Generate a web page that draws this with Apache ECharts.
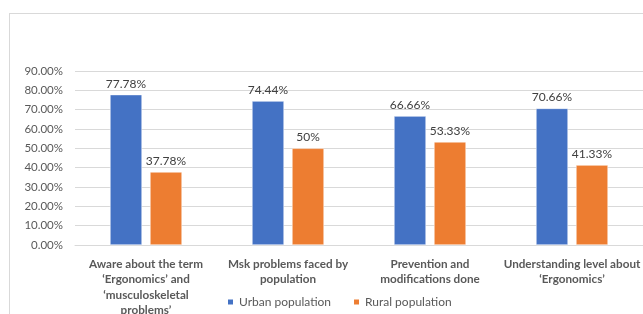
<!DOCTYPE html>
<html>
<head>
<meta charset="utf-8">
<script src="https://cdn.jsdelivr.net/npm/echarts@6/dist/echarts.min.js"></script>
<style>
  html, body { margin: 0; padding: 0; background: #fff; }
  #frame { position: absolute; left: 9px; top: 13px; width: 640px; height: 310px;
           border-left: 1px solid #d9d9d9; border-top: 1px solid #d9d9d9; }
  #chart { position: absolute; left: 0; top: 0; width: 643px; height: 314px; }
</style>
</head>
<body>
<div id="frame"></div>
<div id="chart"></div>
<script>
// categories + values
const categories = [
  "Aware about the term\n\u2018Ergonomics\u2019 and\n\u2018musculoskeletal\nproblems\u2019",
  "Msk problems faced by\npopulation",
  "Prevention and\nmodifications done",
  "Understanding level about\n\u2018Ergonomics\u2019"
];
const urban = [77.78, 74.44, 66.66, 70.66];
const rural = [37.78, 50, 53.33, 41.33];
const yTicks = [10, 20, 30, 40, 50, 60, 70, 80, 90];

const font = "Lato, 'DejaVu Sans', sans-serif";

let chart = echarts.init(document.getElementById("chart"));
chart.setOption({
  animation: false,
  textStyle: { fontFamily: font },
  legend: {
    left: 221,
    top: 291,
    icon: "rect",
    itemWidth: 7,
    itemHeight: 7,
    itemGap: 21,
    textStyle: { color: "#595959", fontSize: 12, fontFamily: font },
    data: ["Urban population", "Rural population"]
  },
  grid: { left: 75, right: 0, top: 71, bottom: 69, outerBoundsMode: "none" },
  xAxis: {
    type: "category",
    data: categories,
    axisLine: { lineStyle: { color: "#d9d9d9" } },
    axisTick: { show: false },
    axisLabel: {
      color: "#595959",
      fontWeight: "bold",
      fontSize: 11.7,
      lineHeight: 15.5,
      margin: 11,
      interval: 0,
      fontFamily: font
    }
  },
  yAxis: {
    type: "value",
    min: 0,
    max: 90,
    interval: 10,
    axisLine: { show: false },
    axisTick: { show: false },
    splitLine: { show: false },
    axisLabel: {
      color: "#595959",
      fontSize: 11.5,
      margin: 12,
      fontFamily: font,
      formatter: v => v.toFixed(2) + "%"
    }
  },
  series: [
    {
      name: "Urban population",
      type: "bar",
      data: urban,
      barWidth: 32,
      barGap: "25%",
      itemStyle: { color: "#4472C4", borderColor: "#fff", borderWidth: 0.5 },
      label: {
        show: true, position: "top", distance: 5,
        color: "#404040", fontSize: 12, fontFamily: font,
        formatter: p => p.value + "%"
      },
      markLine: {
        silent: true,
        z: 1,
        symbol: ["none", "arrow"],
        symbolSize: [0, 7],
        label: { show: false },
        lineStyle: { color: "#d9d9d9", type: "solid", width: 1 },
        data: yTicks.map(v => ({ yAxis: v }))
      }
    },
    {
      name: "Rural population",
      type: "bar",
      data: rural,
      barWidth: 32,
      itemStyle: { color: "#ED7D31", borderColor: "#fff", borderWidth: 0.5 },
      label: {
        show: true, position: "top", distance: 5,
        color: "#404040", fontSize: 12, fontFamily: font,
        formatter: p => p.value + "%"
      }
    }
  ]
});
</script>
</body>
</html>
